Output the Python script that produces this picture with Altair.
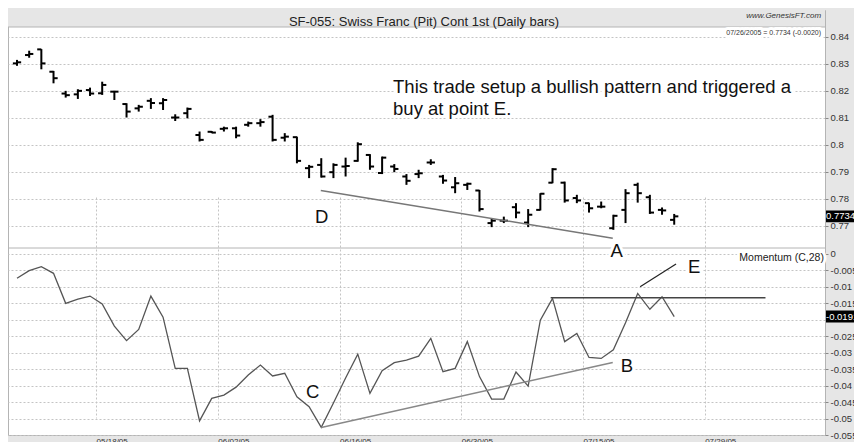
import altair as alt
import pandas as pd

FONT = "Liberation Sans"

# trading-day index 0..54  (05/09/05 .. 07/26/05)
opens = [0.8302, 0.8333, 0.8354, 0.8271, 0.8190, 0.8187, 0.8203, 0.8191, 0.8197, 0.8151,
         0.8135, 0.8163, 0.8154, 0.8101, 0.8117, 0.8036, 0.8048, 0.8059, 0.8061, 0.8074,
         0.8080, 0.8104, 0.8026, 0.8028, 0.7913, 0.7925, 0.7898, 0.7919, 0.7940, 0.7962,
         0.7895, 0.7919, 0.7882, 0.7891, 0.7934, 0.7882, 0.7842, 0.7851, 0.7830, 0.7709,
         0.7718, 0.7768, 0.7711, 0.7758, 0.7859, 0.7859, 0.7802, 0.7783, 0.7770, 0.7690,
         0.7758, 0.7851, 0.7805, 0.7758, 0.7721]
highs = [0.8315, 0.8349, 0.8355, 0.8274, 0.8200, 0.8206, 0.8212, 0.8234, 0.8200, 0.8154,
         0.8148, 0.8173, 0.8173, 0.8113, 0.8138, 0.8049, 0.8051, 0.8067, 0.8067, 0.8086,
         0.8095, 0.8111, 0.8043, 0.8030, 0.7925, 0.7950, 0.7931, 0.7952, 0.8009, 0.7965,
         0.7956, 0.7928, 0.7891, 0.7907, 0.7946, 0.7888, 0.7880, 0.7859, 0.7832, 0.7727,
         0.7733, 0.7783, 0.7761, 0.7820, 0.7913, 0.7863, 0.7814, 0.7785, 0.7789, 0.7740,
         0.7835, 0.7859, 0.7814, 0.7767, 0.7743]
lows = [0.8293, 0.8323, 0.8280, 0.8228, 0.8175, 0.8170, 0.8181, 0.8185, 0.8166, 0.8101,
        0.8123, 0.8133, 0.8129, 0.8088, 0.8098, 0.8012, 0.8043, 0.8049, 0.8024, 0.8067,
        0.8067, 0.8012, 0.8012, 0.7931, 0.7876, 0.7878, 0.7876, 0.7882, 0.7937, 0.7907,
        0.7891, 0.7898, 0.7851, 0.7876, 0.7925, 0.7855, 0.7820, 0.7832, 0.7752, 0.7694,
        0.7709, 0.7727, 0.7694, 0.7756, 0.7857, 0.7785, 0.7783, 0.7748, 0.7764, 0.7684,
        0.7709, 0.7785, 0.7743, 0.7740, 0.7703]
closes = [0.8306, 0.8337, 0.8302, 0.8247, 0.8184, 0.8200, 0.8190, 0.8222, 0.8197, 0.8123,
          0.8141, 0.8155, 0.8166, 0.8101, 0.8133, 0.8018, 0.8045, 0.8061, 0.8034, 0.8080,
          0.8084, 0.8018, 0.8030, 0.7940, 0.7918, 0.7882, 0.7925, 0.7921, 0.8002, 0.7919,
          0.7952, 0.7910, 0.7866, 0.7894, 0.7934, 0.7867, 0.7857, 0.7855, 0.7761, 0.7718,
          0.7718, 0.7748, 0.7740, 0.7818, 0.7909, 0.7793, 0.7793, 0.7764, 0.7770, 0.7736,
          0.7820, 0.7820, 0.7748, 0.7756, 0.7734]
momentum = [-0.0075, -0.0052, -0.0040, -0.0060, -0.0151, -0.0138, -0.0129, -0.0153, -0.0220, -0.0264,
            -0.0230, -0.0129, -0.0193, -0.0348, -0.0348, -0.0507, -0.0439, -0.0429, -0.0405, -0.0368,
            -0.0338, -0.0371, -0.0363, -0.0434, -0.0464, -0.0527, -0.0453, -0.0377, -0.0305, -0.0424,
            -0.0355, -0.0331, -0.0323, -0.0311, -0.0257, -0.0358, -0.0348, -0.0267, -0.0373, -0.0441,
            -0.0441, -0.0359, -0.0402, -0.0202, -0.0136, -0.0267, -0.0242, -0.0315, -0.0318, -0.0292,
            -0.0210, -0.0121, -0.0169, -0.0131, -0.0191]

grid_pos = [6.5, 16.5, 26.5, 36.5, 46.5, 56.5]
grid_labels = ["05/18/05", "06/02/05", "06/16/05", "06/30/05", "07/15/05", "07/29/05"]
price_ticks = [0.77, 0.78, 0.79, 0.8, 0.81, 0.82, 0.83, 0.84]
mom_ticks = [0, -0.005, -0.01, -0.015, -0.02, -0.025, -0.03, -0.035, -0.04, -0.045, -0.05, -0.055]

# trend lines (index, value)
da_x, da_y = [24.96, 48.95], [0.7830, 0.7653]
cb_x, cb_y = [25.0, 48.95], [-0.0527, -0.0330]
res_x, res_y = [43.85, 61.5], [-0.0134, -0.0134]
e_x, e_y = [51.2, 54.15], [-0.0101, -0.0032]

title_text = "SF-055: Swiss Franc (Pit) Cont 1st (Daily bars)"
site_text = "www.GenesisFT.com"
stamp_text = "07/26/2005 = 0.7734 (-0.0020)"
note_lines = ["This trade setup a bullish pattern and triggered a", "buy at point E."]
last_price = 0.7734
last_mom = -0.0191

# price and momentum extents of the two panels
P_LO, P_HI, P_BAND = 0.76165, 0.84371, 0.8501
M_LO, M_HI = -0.055, 0.00167

W, H = 817, 425
x_scale = alt.Scale(domain=[-0.74, 66.39], nice=False, zero=False)
yp_scale = alt.Scale(domain=[P_LO, P_HI], range=[238, 17], nice=False, zero=False)
ym_scale = alt.Scale(domain=[M_LO, M_HI], range=[H, 238], nice=False, zero=False)

lab_expr = ("[" + ",".join("'%s'" % l for l in grid_labels) + "][indexof(["
            + ",".join(str(p) for p in grid_pos) + "], datum.value)]")

x_axis = alt.Axis(values=grid_pos, labelExpr=lab_expr, ticks=False, domain=False, grid=True,
                  labelAlign="left", labelBaseline="top", labelPadding=2, labelFontSize=8,
                  labelFlush=False, labelColor="#333333", tickCount=30)
yp_axis = alt.Axis(orient="right", values=price_ticks, labelExpr="toString(datum.value)",
                   tickCount=30, tickSize=3, labelPadding=2, labelFontSize=9.5, grid=True,
                   domain=False, labelOverlap=False)
ym_axis = alt.Axis(orient="right", values=mom_ticks,
                   labelExpr="datum.value == -0.02 ? '' : toString(datum.value)",
                   tickCount=30, tickSize=3, labelPadding=2, labelFontSize=9.5, grid=True,
                   domain=False, labelOverlap=False)

bars = pd.DataFrame({"i": list(range(len(closes))), "open": opens, "high": highs,
                     "low": lows, "close": closes, "mom": momentum})
base = alt.Chart(bars)


def px(field):
    return alt.X(field, scale=x_scale, title=None)


def py(field):
    return alt.Y(field, scale=yp_scale, title=None)


def my(field):
    return alt.Y(field, scale=ym_scale, title=None)


def haloed(chart_fn):
    """white halo text underneath, then the text itself"""
    return [chart_fn(stroke="white", strokeWidth=6, strokeJoin="round", fill="white"),
            chart_fn()]


# ---------------- price panel
band = alt.Chart(pd.DataFrame({"a": [P_HI], "b": [P_BAND]})).mark_rect(color="#e6e6e6").encode(
    x=alt.value(0), x2=alt.value(W), y=py("a:Q"), y2="b:Q")
hl = base.mark_rule(color="black", strokeWidth=2).encode(
    x=alt.X("i:Q", scale=x_scale, axis=x_axis, title=None),
    y=alt.Y("low:Q", scale=yp_scale, axis=yp_axis, title=None),
    y2="high:Q")
op = base.transform_calculate(xo="datum.i - 0.34").mark_rule(color="black", strokeWidth=2).encode(
    x=px("xo:Q"), x2="i:Q", y=py("open:Q"))
cl = base.transform_calculate(xc="datum.i + 0.34").mark_rule(color="black", strokeWidth=2).encode(
    x=px("i:Q"), x2="xc:Q", y=py("close:Q"))
da = alt.Chart(pd.DataFrame({"x": da_x, "y": da_y})).mark_line(color="#777777", strokeWidth=1.5).encode(
    x=px("x:Q"), y=py("y:Q"))
sep = alt.Chart(pd.DataFrame({"y": [P_LO, P_HI]})).mark_rule(color="#b4b4b4", strokeWidth=1).encode(
    x=alt.value(0), x2=alt.value(W), y=py("y:Q"))

top_texts = pd.DataFrame({"x": [30.9, 30.9, 25.04], "y": [0.8192, 0.8112, 0.7708],
                          "t": [note_lines[0], note_lines[1], "D"], "a": ["left", "left", "center"]})


def notes_fn(**kw):
    return alt.Chart(top_texts).transform_filter("datum.a == 'left'").mark_text(
        align="left", baseline="alphabetic", fontSize=18.5, font=FONT, color="#111111", **kw).encode(
        x=px("x:Q"), y=py("y:Q"), text="t:N")


def dlab_fn(**kw):
    return alt.Chart(top_texts).transform_filter("datum.a == 'center'").mark_text(
        align="center", baseline="alphabetic", fontSize=18.5, font=FONT, color="#111111", **kw).encode(
        x=px("x:Q"), y=py("y:Q"), text="t:N")


ttl = alt.Chart(pd.DataFrame({"x": [33.44], "y": [0.84413], "t": [title_text]})).mark_text(
    align="center", baseline="alphabetic", fontSize=13, font=FONT, color="#222222").encode(
    x=px("x:Q"), y=py("y:Q"), text="t:N")
site = alt.Chart(pd.DataFrame({"x": [66.07], "y": [0.84706], "t": [site_text]})).mark_text(
    align="right", baseline="alphabetic", fontSize=8, fontStyle="italic", font=FONT,
    color="#333333").encode(x=px("x:Q"), y=py("y:Q"), text="t:N")


def stamp_fn(**kw):
    return alt.Chart(pd.DataFrame({"x": [66.07], "y": [0.84056], "t": [stamp_text]})).mark_text(
        align="right", baseline="alphabetic", fontSize=7, font=FONT, color="#333333", **kw).encode(
        x=px("x:Q"), y=py("y:Q"), text="t:N")


box_shape = "M-1,-0.35H1V0.35H-1Z"
pbox_df = pd.DataFrame({"v": [last_price], "t": ["0.7734"]})
pbox = alt.Chart(pbox_df).mark_point(shape=box_shape, filled=True, opacity=1, color="black",
                                     size=1156, strokeWidth=0).encode(
    x=alt.value(W + 18), y=py("v:Q"))
ptxt = alt.Chart(pbox_df).mark_text(align="left", baseline="middle", fontSize=9.5, font=FONT,
                                    color="white").encode(
    x=alt.value(W + 1), y=py("v:Q"), text="t:N")

price_layer = alt.layer(hl, band, op, cl, da, sep, *haloed(notes_fn), *haloed(dlab_fn), ttl, site,
                        *haloed(stamp_fn), pbox, ptxt)

# ---------------- momentum panel
mline = base.mark_line(color="#555555", strokeWidth=1.3).encode(
    x=px("i:Q"), y=alt.Y("mom:Q", scale=ym_scale, axis=ym_axis, title=None))


def seg(xs, ys, color, w):
    return alt.Chart(pd.DataFrame({"x": xs, "y": ys})).mark_line(color=color, strokeWidth=w).encode(
        x=px("x:Q"), y=my("y:Q"))


cb = seg(cb_x, cb_y, "#888888", 1.5)
res = seg(res_x, res_y, "#444444", 1.5)
eline = seg(e_x, e_y, "#222222", 1.2)

bot_labels = pd.DataFrame({"x": [24.3, 50.12, 55.65, 49.27],
                           "y": [-0.04388, -0.0360, -0.0060, -0.00115],
                           "t": ["C", "B", "E", "A"]})


def blab_fn(**kw):
    return alt.Chart(bot_labels).mark_text(align="center", baseline="alphabetic", fontSize=18.5,
                                           font=FONT, color="#111111", **kw).encode(
        x=px("x:Q"), y=my("y:Q"), text="t:N")


def mname_fn(**kw):
    return alt.Chart(pd.DataFrame({"x": [66.3], "y": [-0.00236], "t": ["Momentum (C,28)"]})).mark_text(
        align="right", baseline="alphabetic", fontSize=10.5, font=FONT, color="#222222", **kw).encode(
        x=px("x:Q"), y=my("y:Q"), text="t:N")


mbox_df = pd.DataFrame({"v": [last_mom], "t": ["-0.0191"]})
mbox = alt.Chart(mbox_df).mark_point(shape=box_shape, filled=True, opacity=1, color="black",
                                     size=1156, strokeWidth=0).encode(
    x=alt.value(W + 18), y=my("v:Q"))
mtxt = alt.Chart(mbox_df).mark_text(align="left", baseline="middle", fontSize=9.5, font=FONT,
                                    color="white").encode(
    x=alt.value(W + 1), y=my("v:Q"), text="t:N")

mom_layer = alt.layer(*haloed(mname_fn), mline, cb, res, eline, *haloed(blab_fn), mbox, mtxt)

# the svg must stay within the 846px-wide page body, or the browser shrinks it
chart = alt.layer(price_layer, mom_layer).resolve_scale(y="independent").resolve_axis(
    y="independent").properties(
    width=W, height=H,
    background="#e6e6e6",
    autosize=alt.AutoSizeParams(type="none"),
    padding={"left": 0, "top": 2, "right": 29, "bottom": 12}
).configure_view(fill="white", stroke="#b4b4b4").configure_axis(
    gridColor="#c4c4c4", gridDash=[2, 2], gridWidth=1, labelFont=FONT, labelColor="#333333",
    tickColor="#888888")

chart.save("out.html", embed_options={"renderer": "svg", "actions": False})
